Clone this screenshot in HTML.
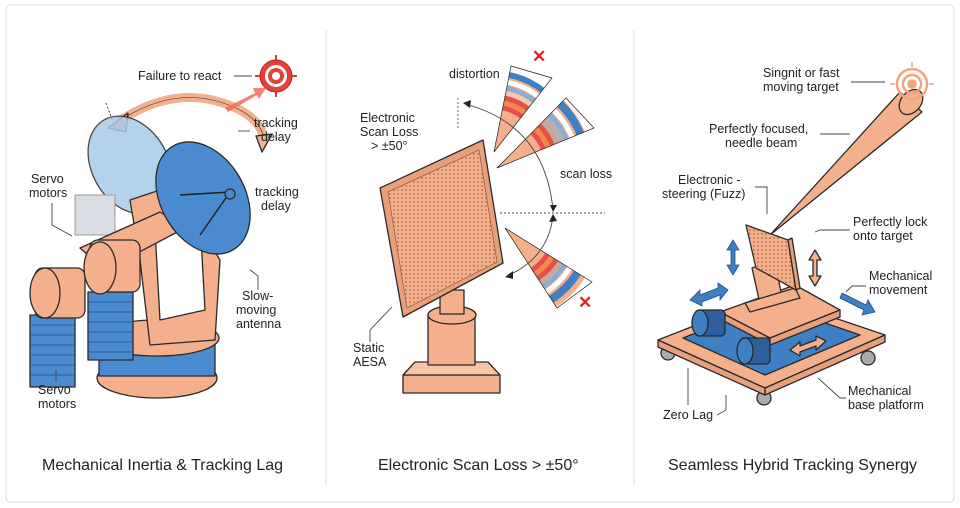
<!DOCTYPE html>
<html><head><meta charset="utf-8"><style>
html,body{margin:0;padding:0;background:#fff;}
svg{display:block;font-family:"Liberation Sans",sans-serif;}
.t{font-size:12.5px;fill:#222;}
.h{font-size:16px;fill:#222;}
.s{stroke:#2a2a2a;stroke-width:1.3;stroke-linejoin:round;}
.ld{stroke:#444;stroke-width:0.9;fill:none;}
</style></head><body>
<svg width="960" height="508" viewBox="0 0 960 508">
<defs>
<pattern id="dots" width="4" height="4" patternUnits="userSpaceOnUse"><circle cx="2" cy="2" r="0.8" fill="#a0522d"/></pattern>
<clipPath id="c1"><polygon points="494,152 511,66 552,78"/></clipPath>
<clipPath id="c2"><polygon points="497,168 566,98 594,128"/></clipPath>
<clipPath id="c3"><polygon points="505,228 557,308 592,282"/></clipPath>
</defs>
<rect x="6" y="5" width="948" height="497" rx="4" fill="#fff" stroke="#ddd"/>
<line x1="326" y1="30" x2="326" y2="485" stroke="#ddd"/>
<line x1="634" y1="30" x2="634" y2="485" stroke="#ddd"/>

<!-- PANEL 1 -->
<path d="M118,122 Q180,80 240,110 Q262,122 264,140" fill="none" stroke="#f4b08c" stroke-width="9"/>
<path d="M118,122 Q180,80 240,110 Q262,122 264,140" fill="none" stroke="#2a2a2a" stroke-width="0.6"/>
<polygon points="108,128 128,113 126,132" fill="#f4b08c" class="s"/>
<polygon points="256,136 272,134 262,152" fill="#f4b08c" class="s"/>
<line x1="106" y1="103" x2="118" y2="135" stroke="#444" stroke-dasharray="2,2"/>
<ellipse cx="130" cy="165" rx="38" ry="52" transform="rotate(-30 130 165)" fill="#a9cbe8" class="s" opacity="0.85"/>
<rect x="75" y="195" width="40" height="40" fill="#d8dde3" stroke="#999"/>
<ellipse cx="157" cy="378" rx="60" ry="20" fill="#f4b08c" class="s"/>
<rect x="99" y="340" width="116" height="36" fill="#4a8bd0" class="s"/>
<ellipse cx="157" cy="338" rx="62" ry="18" fill="#f4b08c" class="s"/>
<polygon points="130,200 175,185 220,260 215,340 150,345 140,260" fill="#f4b08c" class="s"/>
<polygon points="155,230 200,220 205,310 160,320" fill="#fff" class="s"/>
<polygon points="80,248 160,212 185,228 105,270" fill="#f4b08c" class="s"/>
<ellipse cx="203" cy="198" rx="42" ry="60" transform="rotate(-30 203 198)" fill="#4a8bd0" class="s"/>
<line x1="180" y1="195" x2="230" y2="192" stroke="#222" stroke-width="1.5"/>
<line x1="200" y1="235" x2="228" y2="195" stroke="#222" stroke-width="1.5"/>
<circle cx="230" cy="194" r="5" fill="#4a8bd0" class="s"/>
<rect x="30" y="315" width="45" height="72" fill="#4a8bd0" class="s"/>
<rect x="88" y="292" width="45" height="68" fill="#4a8bd0" class="s"/>
<g stroke="#1e4f86" stroke-width="0.8">
<line x1="30" y1="325" x2="75" y2="325"/><line x1="30" y1="335" x2="75" y2="335"/><line x1="30" y1="345" x2="75" y2="345"/><line x1="30" y1="355" x2="75" y2="355"/><line x1="30" y1="365" x2="75" y2="365"/><line x1="30" y1="375" x2="75" y2="375"/>
<line x1="88" y1="302" x2="133" y2="302"/><line x1="88" y1="312" x2="133" y2="312"/><line x1="88" y1="322" x2="133" y2="322"/><line x1="88" y1="332" x2="133" y2="332"/><line x1="88" y1="342" x2="133" y2="342"/><line x1="88" y1="352" x2="133" y2="352"/></g>
<rect x="35" y="268" width="50" height="50" rx="8" fill="#f4b08c" class="s"/>
<ellipse cx="45" cy="293" rx="15" ry="25" fill="#f4b08c" class="s"/>
<rect x="90" y="240" width="50" height="52" rx="8" fill="#f4b08c" class="s"/>
<ellipse cx="100" cy="268" rx="16" ry="26" fill="#f4b08c" class="s"/>
<g transform="translate(276,76)"><circle r="16" fill="#e3403a" stroke="#b22"/><circle r="11" fill="#fff"/><circle r="8" fill="#e3403a"/><circle r="4" fill="#fff"/>
<g stroke="#d33" stroke-width="2"><line x1="0" y1="-21" x2="0" y2="-16"/><line x1="0" y1="21" x2="0" y2="16"/><line x1="-21" y1="0" x2="-16" y2="0"/><line x1="21" y1="0" x2="16" y2="0"/></g></g>
<polygon points="225,108 255,93 253,88 266,88 259,99 257,95 228,112" fill="#f26b5c" opacity="0.85"/>
<text class="t" x="138" y="80">Failure to react</text><line class="ld" x1="234" y1="76" x2="252" y2="76"/>
<text class="t" x="254" y="127">tracking</text><text class="t" x="261" y="141">delay</text>
<line class="ld" x1="238" y1="131" x2="250" y2="131"/>
<text class="t" x="255" y="196">tracking</text><text class="t" x="261" y="210">delay</text>
<text class="t" x="31" y="183">Servo</text><text class="t" x="29" y="197">motors</text>
<path class="ld" d="M52,203 V225 L72,236"/>
<text class="t" x="242" y="300">Slow-</text><text class="t" x="236" y="314">moving</text><text class="t" x="236" y="328">antenna</text>
<path class="ld" d="M250,270 L258,276 V290"/>
<text class="t" x="38" y="394">Servo</text><text class="t" x="38" y="408">motors</text>
<line class="ld" x1="56" y1="370" x2="56" y2="382"/>
<text class="h" x="42" y="470">Mechanical Inertia &amp; Tracking Lag</text>

<!-- PANEL 2 -->
<rect x="403" y="375" width="97" height="18" fill="#f4b08c" class="s"/>
<polygon points="403,375 500,375 488,362 415,362" fill="#f7c4a6" class="s"/>
<rect x="428" y="315" width="47" height="50" fill="#f4b08c" class="s"/>
<ellipse cx="452" cy="315" rx="24" ry="9" fill="#f4b08c" class="s"/>
<rect x="440" y="290" width="24" height="24" fill="#f4b08c" class="s"/>
<polygon points="380,188 483,140 503,263 403,317" fill="#e8a07c" class="s"/>
<polygon points="388,192 479,150 497,262 407,308" fill="#f4b08c" stroke="#8a5a40" stroke-width="0.7"/>
<polygon points="388,192 479,150 497,262 407,308" fill="url(#dots)"/>
<!-- fans -->
<g clip-path="url(#c1)" fill="none" stroke-width="5">
<circle cx="494" cy="152" r="200" fill="#f4b08c" stroke="none"/>
<circle cx="494" cy="152" r="45" stroke="#e5504a"/><circle cx="494" cy="152" r="50" stroke="#f08a4a"/><circle cx="494" cy="152" r="55" stroke="#e5504a"/><circle cx="494" cy="152" r="60" stroke="#f4c7b0"/><circle cx="494" cy="152" r="65" stroke="#8aaed3"/><circle cx="494" cy="152" r="71" stroke="#fff"/><circle cx="494" cy="152" r="79" stroke="#3f7fc4" stroke-width="7"/>
<circle cx="494" cy="152" r="84" stroke="#fff" stroke-width="5"/><circle cx="494" cy="152" r="200" stroke="#fff" stroke-width="230"/>
</g>
<g clip-path="url(#c2)" fill="none" stroke-width="5">
<circle cx="497" cy="168" r="200" fill="#f4b08c" stroke="none"/>
<circle cx="497" cy="168" r="50" stroke="#e5504a"/><circle cx="497" cy="168" r="55" stroke="#f08a4a"/><circle cx="497" cy="168" r="60" stroke="#e5504a"/><circle cx="497" cy="168" r="65" stroke="#c9a89c"/><circle cx="497" cy="168" r="70" stroke="#b9b0b0"/><circle cx="497" cy="168" r="75" stroke="#8aaed3"/><circle cx="497" cy="168" r="81" stroke="#fff"/><circle cx="497" cy="168" r="90" stroke="#3f7fc4" stroke-width="8"/>
<circle cx="497" cy="168" r="200" stroke="#fff" stroke-width="210"/>
</g>
<g clip-path="url(#c3)" fill="none" stroke-width="5">
<circle cx="505" cy="228" r="200" fill="#f4b08c" stroke="none"/>
<circle cx="505" cy="228" r="50" stroke="#e5504a"/><circle cx="505" cy="228" r="55" stroke="#f08a4a"/><circle cx="505" cy="228" r="60" stroke="#e5504a"/><circle cx="505" cy="228" r="65" stroke="#c9a89c"/><circle cx="505" cy="228" r="70" stroke="#8aaed3"/><circle cx="505" cy="228" r="76" stroke="#fff"/><circle cx="505" cy="228" r="85" stroke="#3f7fc4" stroke-width="8"/>
<circle cx="505" cy="228" r="200" stroke="#fff" stroke-width="212"/>
</g>
<g stroke="#222" stroke-width="0.7" fill="none">
<polygon points="494,152 511,66 552,78" /><polygon points="497,168 566,98 594,128"/><polygon points="505,228 557,308 592,282"/></g>
<text x="532" y="62" font-size="17" fill="#d22" font-weight="bold">✕</text>
<text x="578" y="308" font-size="17" fill="#d22" font-weight="bold">✕</text>
<path class="ld" d="M465,104 Q545,125 553,210" stroke-width="1"/>
<polygon points="463,103 471,100 470,108" fill="#222"/>
<polygon points="550,205 557,205 553,212" fill="#222"/>
<path class="ld" d="M553,216 Q548,258 507,276" stroke-width="1"/>
<polygon points="553,214 549,222 557,221" fill="#222"/>
<polygon points="505,277 513,271 513,279" fill="#222"/>
<line x1="458" y1="98" x2="458" y2="128" stroke="#666" stroke-dasharray="2,2"/>
<line x1="500" y1="213" x2="605" y2="213" stroke="#444" stroke-dasharray="2,2"/>
<text class="t" x="449" y="78">distortion</text>
<text class="t" x="360" y="122">Electronic</text><text class="t" x="360" y="136">Scan Loss</text><text class="t" x="371" y="150">&gt; ±50°</text>
<text class="t" x="560" y="178">scan loss</text>
<text class="t" x="353" y="352">Static</text><text class="t" x="353" y="366">AESA</text>
<path class="ld" d="M370,342 V330 L392,307"/>
<text class="h" x="378" y="470">Electronic Scan Loss &gt; ±50°</text>

<!-- PANEL 3 -->
<polygon points="770,235 900,92 922,112" fill="#f4b08c" class="s"/>
<ellipse cx="911" cy="102" rx="10" ry="14" transform="rotate(40 911 102)" fill="#f4b08c" class="s"/>
<g transform="translate(912,84)" fill="none" stroke="#f4a27a" stroke-width="2.5"><circle r="15"/><circle r="9"/><circle r="3.5" fill="#f4a27a"/>
<g stroke-width="1.5"><line x1="0" y1="-22" x2="0" y2="-17"/><line x1="0" y1="22" x2="0" y2="17"/><line x1="-22" y1="0" x2="-17" y2="0"/><line x1="22" y1="0" x2="17" y2="0"/></g></g>
<circle cx="668" cy="353" r="7" fill="#aaa" class="s"/><circle cx="764" cy="398" r="7" fill="#aaa" class="s"/><circle cx="868" cy="358" r="7" fill="#aaa" class="s"/>
<polygon points="658,340 770,296 885,335 765,388" fill="#f4b08c" class="s"/>
<polygon points="658,340 765,388 765,395 658,347" fill="#e8a07c" class="s"/>
<polygon points="765,388 885,335 885,342 765,395" fill="#e8a07c" class="s"/>
<polygon points="683,338 770,304 860,335 765,375" fill="#3f7fc4" class="s"/>
<polygon points="720,312 795,285 840,310 770,338" fill="#f4b08c" class="s"/>
<polygon points="720,312 770,338 770,345 720,319" fill="#e8a07c" class="s"/>
<polygon points="770,338 840,310 840,317 770,345" fill="#e8a07c" class="s"/>
<rect x="695" y="310" width="30" height="26" rx="4" fill="#2f5f9a" class="s"/><ellipse cx="700" cy="323" rx="8" ry="13" fill="#3f7fc4" class="s"/>
<rect x="740" y="338" width="30" height="26" rx="4" fill="#2f5f9a" class="s"/><ellipse cx="745" cy="351" rx="8" ry="13" fill="#3f7fc4" class="s"/>
<polygon points="752,268 775,260 782,298 760,304" fill="#f4b08c" class="s"/>
<polygon points="745,303 795,288 800,298 750,312" fill="#f4b08c" class="s"/>
<polygon points="746,225 788,240 796,290 756,268" fill="#f4b08c" class="s"/>
<polygon points="746,225 788,240 796,290 756,268" fill="url(#dots)"/>
<polygon points="788,240 792,238 800,288 796,290" fill="#e8a07c" class="s"/>
<g fill="#3f7fc4" stroke="#1e4f86" stroke-width="0.8">
<polygon points="690,300 700,290 700,295 718,288 718,283 728,290 720,300 720,295 702,302 702,306"/>
<polygon points="842,293 852,298 866,305 868,300 875,312 862,315 864,310 850,303 840,298"/>
<polygon points="733,240 727,250 731,250 731,265 727,265 733,275 739,265 735,265 735,250 739,250"/>
</g>
<polygon points="790,350 800,342 800,346 816,340 816,336 826,341 816,350 816,346 800,352 800,356" fill="#f4b08c" class="s"/>
<polygon points="815,250 809,260 813,260 813,276 809,276 815,286 821,276 817,276 817,260 821,260" fill="#f4b08c" class="s"/>
<text class="t" x="763" y="77">Singnit or fast</text><text class="t" x="763" y="91">moving target</text>
<line class="ld" x1="851" y1="82" x2="885" y2="82"/>
<text class="t" x="709" y="133">Perfectly focused,</text><text class="t" x="725" y="147">needle beam</text>
<line class="ld" x1="820" y1="134" x2="850" y2="134"/>
<text class="t" x="678" y="184">Electronic  -</text><text class="t" x="662" y="198">steering (Fuzz)</text>
<path class="ld" d="M755,187 H767 V214"/>
<text class="t" x="853" y="226">Perfectly lock</text><text class="t" x="853" y="240">onto target</text>
<path class="ld" d="M815,232 L820,230 H850"/>
<text class="t" x="869" y="280">Mechanical</text><text class="t" x="869" y="294">movement</text>
<path class="ld" d="M846,292 L852,286 H866"/>
<text class="t" x="848" y="395">Mechanical</text><text class="t" x="848" y="409">base platform</text>
<path class="ld" d="M818,378 L840,398 H846"/>
<text class="t" x="663" y="419">Zero Lag</text>
<path class="ld" d="M717,415 L726,410 V395"/>
<line class="ld" x1="688" y1="405" x2="688" y2="368"/>
<text class="h" x="668" y="470">Seamless Hybrid Tracking Synergy</text>
</svg>
</body></html>
